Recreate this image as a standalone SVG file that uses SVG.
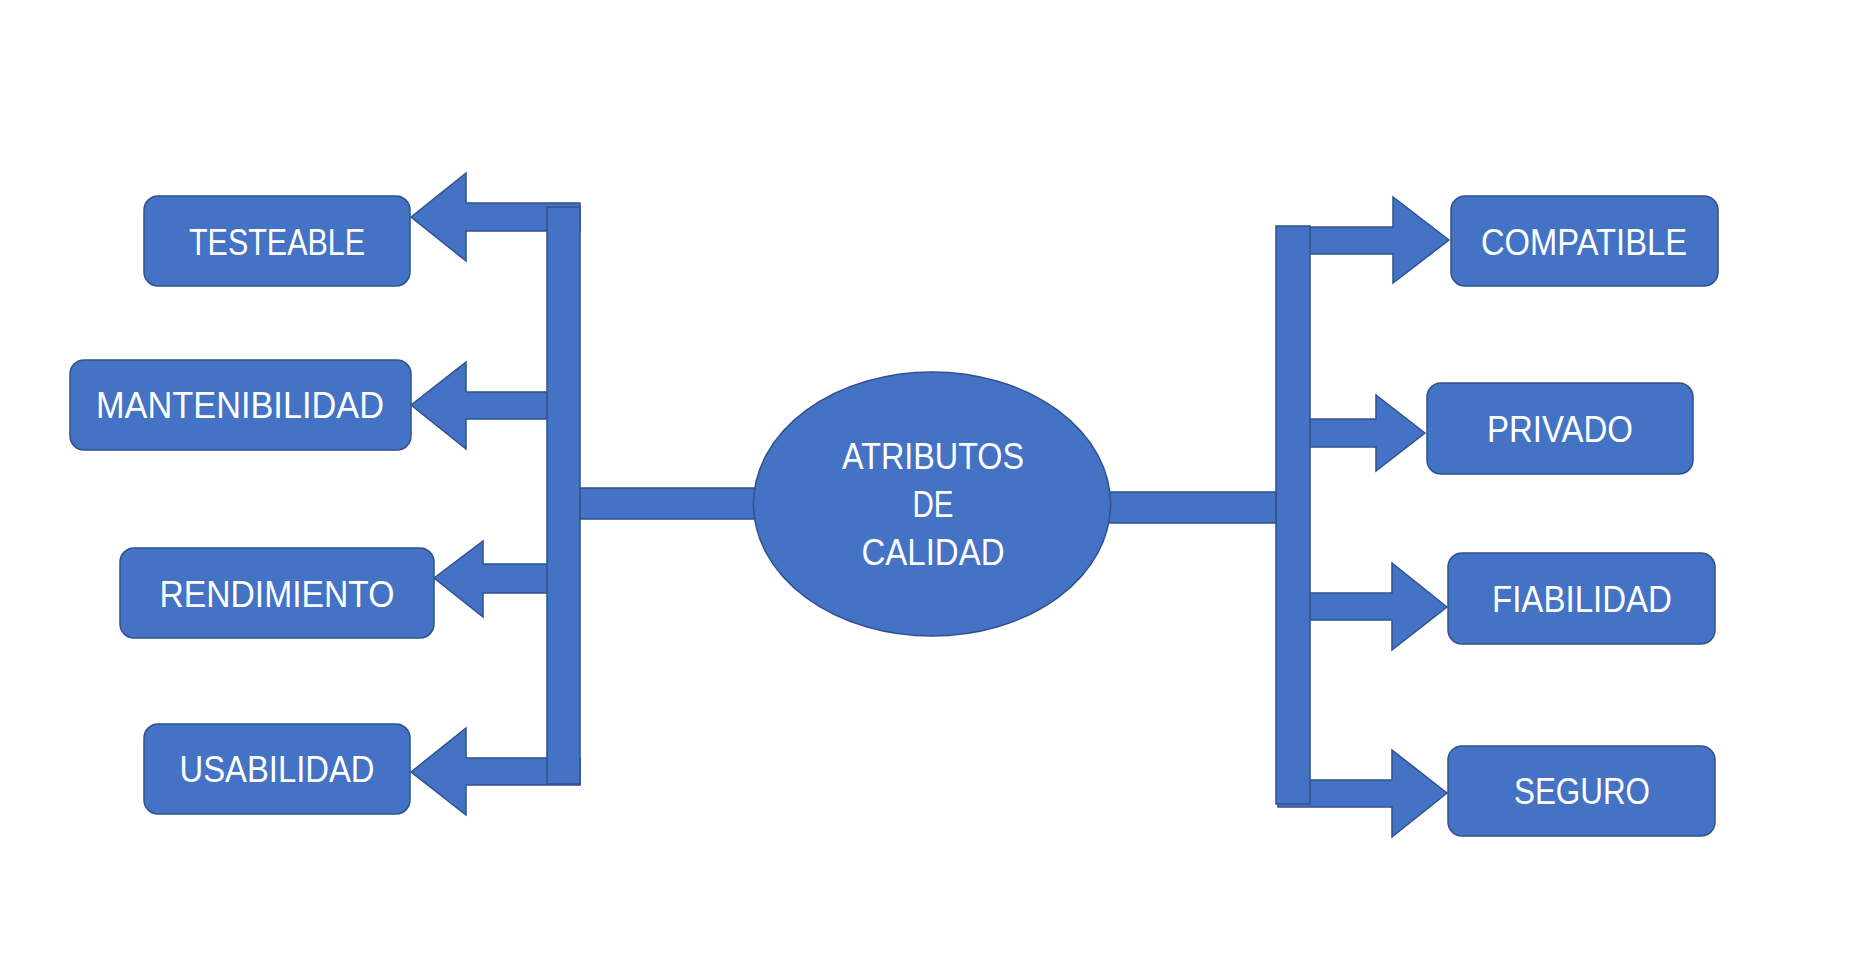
<svg xmlns="http://www.w3.org/2000/svg" width="1858" height="974" viewBox="0 0 1858 974">
<style>
.shape{fill:#4472C4;stroke:#2F528F;stroke-width:1.5}
.lbl{fill:#FFFFFF;font-family:"Liberation Sans",Arial,sans-serif;font-size:36px;text-anchor:middle}
</style>
<rect width="1858" height="974" fill="#FFFFFF"/>
<g id="connectors">
<polygon class="shape" points="411,217 466,173 466,203 580,203 580,231 466,231 466,261"/>
<polygon class="shape" points="411,405 466,362 466,392 560,392 560,419 466,419 466,449"/>
<polygon class="shape" points="434,578 483,541 483,564 560,564 560,593 483,593 483,617"/>
<polygon class="shape" points="411,772 466,728 466,758 580,758 580,785 466,785 466,815"/>
<rect class="shape" x="547" y="207" width="33" height="577"/>
<rect class="shape" x="580" y="488" width="180" height="31"/>
<polygon class="shape" points="1449,240 1393,197 1393,227 1300,227 1300,254 1393,254 1393,283"/>
<polygon class="shape" points="1425,433 1376,395 1376,419 1300,419 1300,447 1376,447 1376,471"/>
<polygon class="shape" points="1447,607 1392,563 1392,593 1300,593 1300,620 1392,620 1392,650"/>
<polygon class="shape" points="1447,793 1392,750 1392,780 1278,780 1278,807 1392,807 1392,837"/>
<rect class="shape" x="1276" y="226" width="34" height="578"/>
<rect class="shape" x="1100" y="492" width="176" height="31"/>
</g>
<g id="node-center">
<ellipse class="shape" cx="932" cy="504" rx="178.5" ry="132"/>
<text class="lbl" x="933" y="469" textLength="182" lengthAdjust="spacingAndGlyphs">ATRIBUTOS</text>
<text class="lbl" x="933" y="517" textLength="41" lengthAdjust="spacingAndGlyphs">DE</text>
<text class="lbl" x="933" y="565" textLength="143" lengthAdjust="spacingAndGlyphs">CALIDAD</text>
</g>
<g id="node-testeable">
<rect class="shape" x="144" y="196" width="266" height="90" rx="14"/>
<text class="lbl" x="277" y="255" textLength="176" lengthAdjust="spacingAndGlyphs">TESTEABLE</text>
</g>
<g id="node-mantenibilidad">
<rect class="shape" x="70" y="360" width="341" height="90" rx="14"/>
<text class="lbl" x="240" y="418" textLength="288" lengthAdjust="spacingAndGlyphs">MANTENIBILIDAD</text>
</g>
<g id="node-rendimiento">
<rect class="shape" x="120" y="548" width="314" height="90" rx="14"/>
<text class="lbl" x="277" y="607" textLength="235" lengthAdjust="spacingAndGlyphs">RENDIMIENTO</text>
</g>
<g id="node-usabilidad">
<rect class="shape" x="144" y="724" width="266" height="90" rx="14"/>
<text class="lbl" x="277" y="782" textLength="195" lengthAdjust="spacingAndGlyphs">USABILIDAD</text>
</g>
<g id="node-compatible">
<rect class="shape" x="1451" y="196" width="267" height="90" rx="14"/>
<text class="lbl" x="1584" y="255" textLength="206" lengthAdjust="spacingAndGlyphs">COMPATIBLE</text>
</g>
<g id="node-privado">
<rect class="shape" x="1427" y="383" width="266" height="91" rx="14"/>
<text class="lbl" x="1560" y="442" textLength="146" lengthAdjust="spacingAndGlyphs">PRIVADO</text>
</g>
<g id="node-fiabilidad">
<rect class="shape" x="1448" y="553" width="267" height="91" rx="14"/>
<text class="lbl" x="1582" y="612" textLength="180" lengthAdjust="spacingAndGlyphs">FIABILIDAD</text>
</g>
<g id="node-seguro">
<rect class="shape" x="1448" y="746" width="267" height="90" rx="14"/>
<text class="lbl" x="1582" y="804" textLength="136" lengthAdjust="spacingAndGlyphs">SEGURO</text>
</g>
</svg>
